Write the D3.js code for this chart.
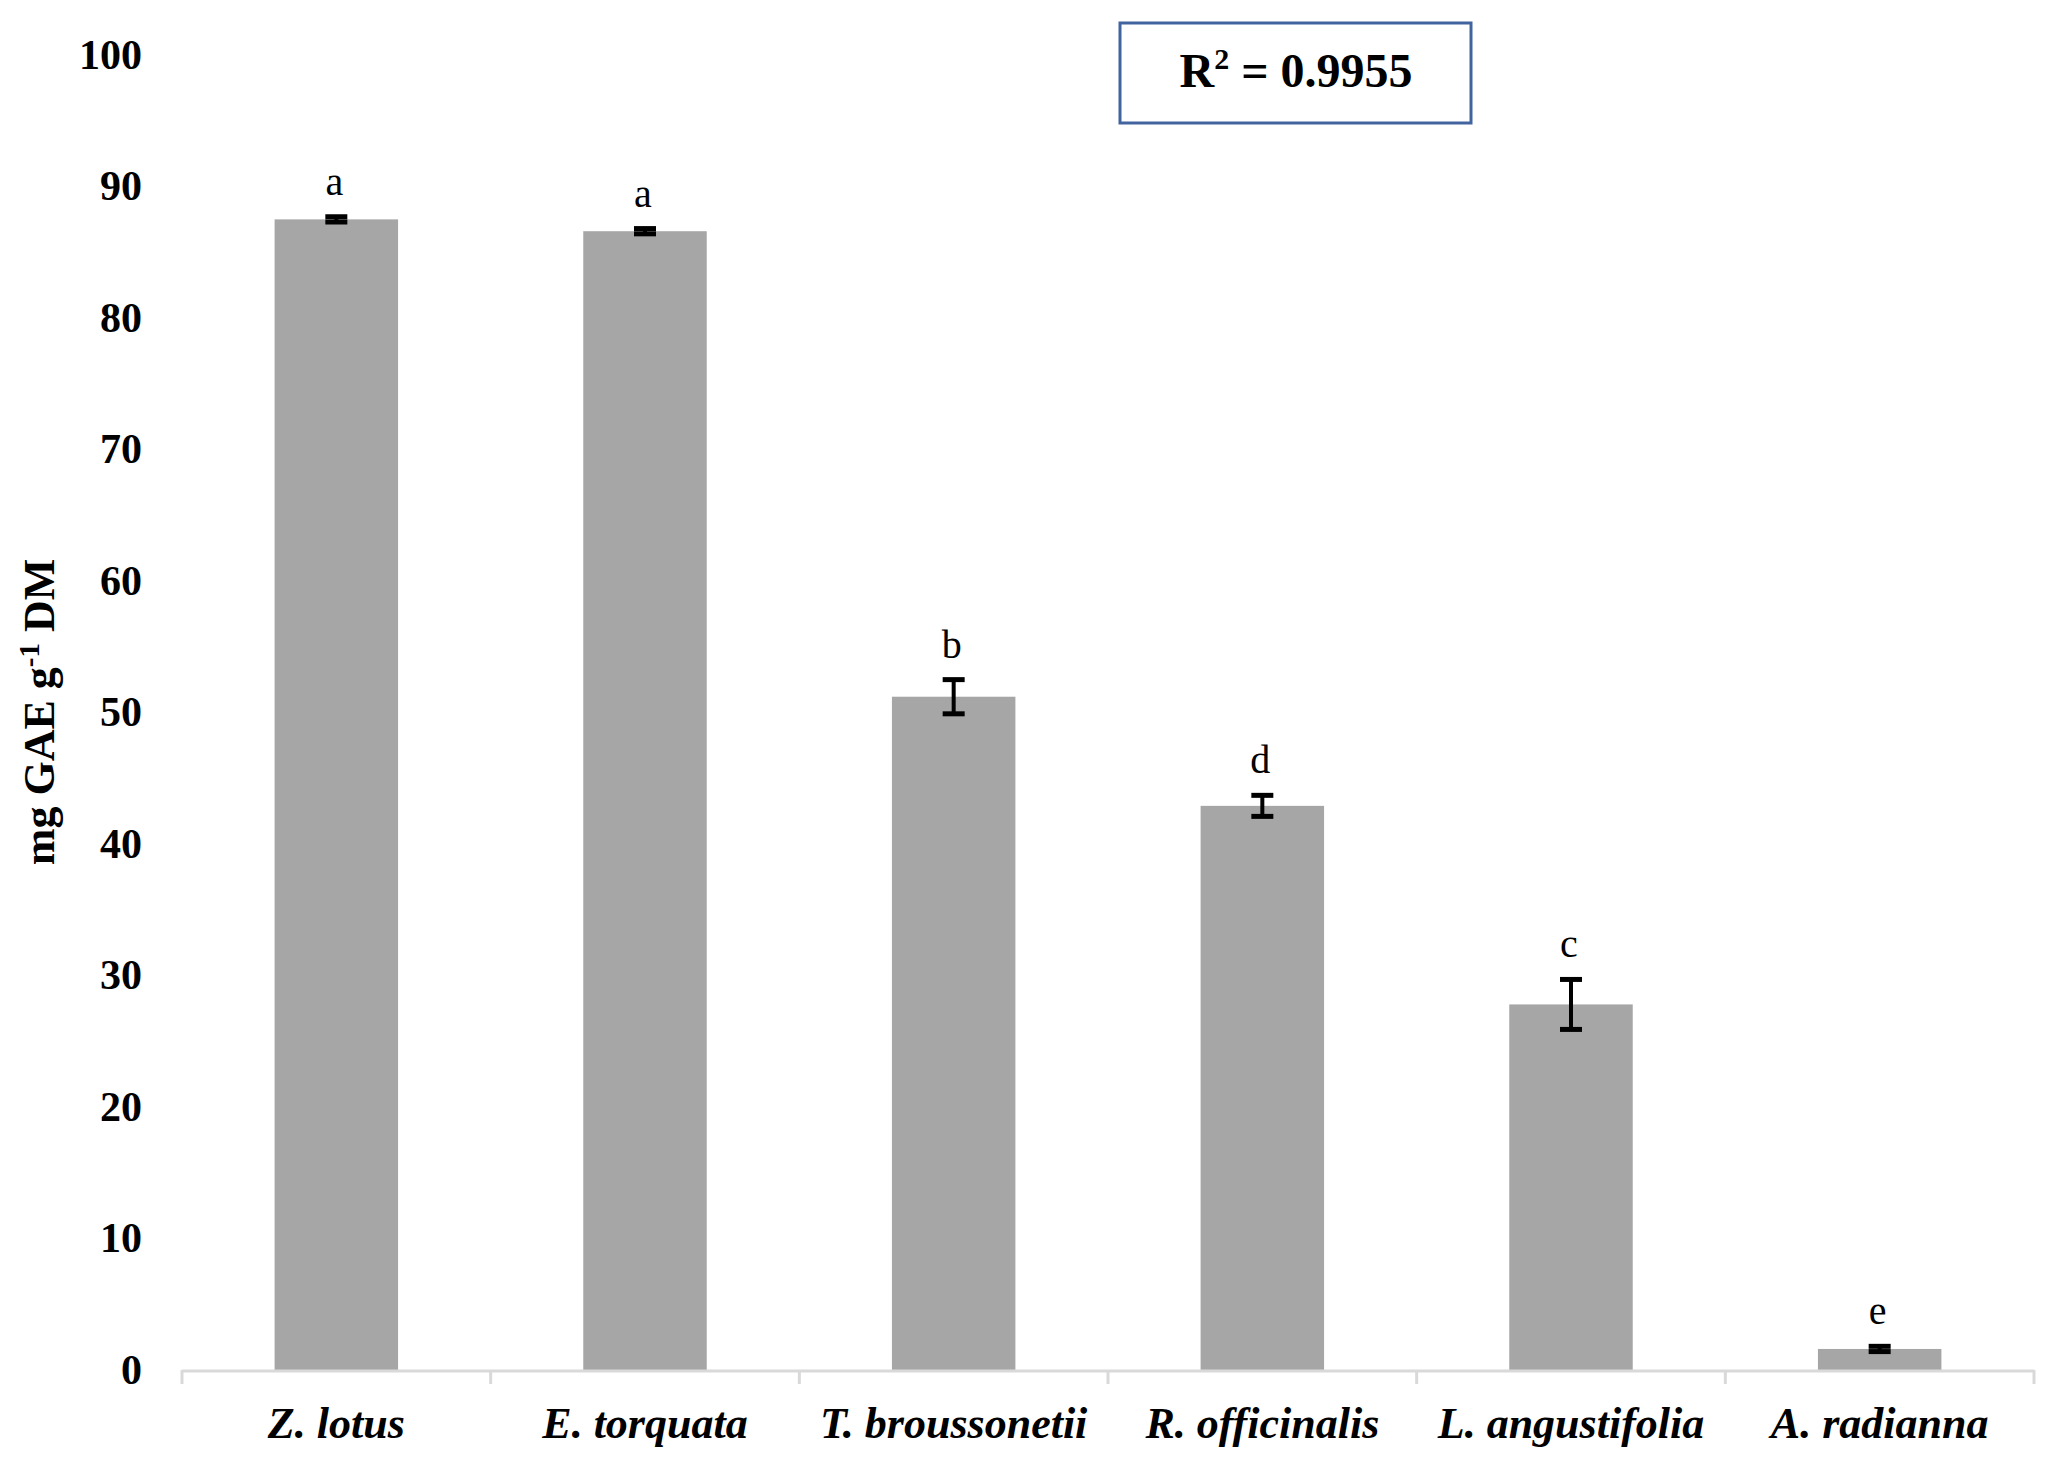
<!DOCTYPE html>
<html>
<head>
<meta charset="utf-8">
<script src="https://cdn.jsdelivr.net/npm/d3@7"></script>
<style>
  body { margin: 0; background: #fff; }
  svg { display: block; font-family: "Liberation Serif", "Times New Roman", serif; }
</style>
</head>
<body>
<div id="chart"></div>
<script>
// data
var categories = ['Z. lotus', 'E. torquata', 'T. broussonetii', 'R. officinalis', 'L. angustifolia', 'A. radianna'];
var values = [87.5, 86.6, 51.2, 42.9, 27.8, 1.6];
var errors = [0.2, 0.2, 1.3, 0.8, 1.9, 0.2];
var letters = ['a', 'a', 'b', 'd', 'c', 'e'];
var yTicks = [0, 10, 20, 30, 40, 50, 60, 70, 80, 90, 100];
var r2Text = '0.9955';

var svg = d3.select('#chart').append('svg')
	.attr('width', 2066)
	.attr('height', 1473);

var padding = {t: 55, r: 32, b: 103, l: 182};
var chartRight = 2066 - padding.r;
var chartBottom = 1473 - padding.b;

var x = d3.scaleBand().domain(categories)
	.range([padding.l, chartRight])
	.paddingInner(0.6)
	.paddingOuter(0.3);

var y = d3.scaleLinear().domain([0, 100]).range([chartBottom, padding.t]);

// y axis: labels only
var yAxisG = svg.append('g')
	.attr('transform', 'translate(' + padding.l + ',0)')
	.call(d3.axisLeft(y).tickValues(yTicks).tickSize(0).tickPadding(40));
yAxisG.select('.domain').remove();
yAxisG.selectAll('text')
	.style('font-family', '"Liberation Serif", "Times New Roman", serif')
	.style('font-size', '42px')
	.style('font-weight', 'bold')
	.attr('fill', '#000');

// bars
var data = categories.map(function(c, i) {
	return {name: c, value: values[i], err: errors[i], letter: letters[i]};
});

svg.selectAll('.bar')
	.data(data)
	.enter()
	.append('rect')
	.attr('class', 'bar')
	.attr('x', function(d) { return x(d.name); })
	.attr('width', x.bandwidth())
	.attr('y', function(d) { return y(d.value); })
	.attr('height', function(d) { return y(0) - y(d.value); })
	.attr('fill', '#a6a6a6');

// x axis line and category boundary ticks
svg.append('line')
	.attr('x1', padding.l).attr('x2', chartRight)
	.attr('y1', y(0) + 1).attr('y2', y(0) + 1)
	.attr('stroke', '#d9d9d9')
	.attr('stroke-width', 3);

svg.selectAll('.xtick')
	.data(d3.range(categories.length + 1))
	.enter()
	.append('line')
	.attr('class', 'xtick')
	.attr('x1', function(i) { return padding.l + i * x.step(); })
	.attr('x2', function(i) { return padding.l + i * x.step(); })
	.attr('y1', y(0))
	.attr('y2', y(0) + 14)
	.attr('stroke', '#d9d9d9')
	.attr('stroke-width', 3);

svg.selectAll('.xlabel')
	.data(categories)
	.enter()
	.append('text')
	.attr('class', 'xlabel')
	.attr('x', function(d) { return x(d) + x.bandwidth() / 2; })
	.attr('y', 1438)
	.attr('text-anchor', 'middle')
	.style('font-size', '44px')
	.style('font-weight', 'bold')
	.style('font-style', 'italic')
	.text(function(d) { return d; });

// error bars
var errG = svg.selectAll('.err')
	.data(data)
	.enter()
	.append('g')
	.attr('class', 'err')
	.attr('transform', function(d) { return 'translate(' + (x(d.name) + x.bandwidth() / 2) + ',0)'; });

errG.append('line')
	.attr('y1', function(d) { return y(d.value + d.err); })
	.attr('y2', function(d) { return y(d.value - d.err); })
	.attr('stroke', '#000')
	.attr('stroke-width', 4);

errG.selectAll('.cap')
	.data(function(d) { return [d.value + d.err, d.value - d.err]; })
	.enter()
	.append('line')
	.attr('class', 'cap')
	.attr('x1', -11).attr('x2', 11)
	.attr('y1', function(v) { return y(v); })
	.attr('y2', function(v) { return y(v); })
	.attr('stroke', '#000')
	.attr('stroke-width', 5);

// significance letters
svg.selectAll('.letter')
	.data(data)
	.enter()
	.append('text')
	.attr('class', 'letter')
	.attr('x', function(d) { return x(d.name) + x.bandwidth() / 2 - 2; })
	.attr('y', function(d) { return y(d.value + d.err) - 22; })
	.attr('text-anchor', 'middle')
	.style('font-size', '40px')
	.text(function(d) { return d.letter; });

// y axis title
var yTitle = svg.append('text')
	.attr('transform', 'translate(54,712) rotate(-90)')
	.attr('text-anchor', 'middle')
	.style('font-size', '44px')
	.style('font-weight', 'bold');
yTitle.append('tspan').text('mg GAE g');
yTitle.append('tspan').attr('dy', -15).style('font-size', '29px').text('-1');
yTitle.append('tspan').attr('dy', 15).text(' DM');

// R squared box
svg.append('rect')
	.attr('x', 1120).attr('y', 23)
	.attr('width', 351).attr('height', 100)
	.attr('fill', 'none')
	.attr('stroke', '#41649f')
	.attr('stroke-width', 3);

var r2 = svg.append('text')
	.attr('x', 1296).attr('y', 87)
	.attr('text-anchor', 'middle')
	.style('font-size', '48px')
	.style('font-weight', 'bold');
r2.append('tspan').text('R');
r2.append('tspan').attr('dy', -18).style('font-size', '30px').text('2');
r2.append('tspan').attr('dy', 18).text(' = ' + r2Text);
</script>
</body>
</html>
